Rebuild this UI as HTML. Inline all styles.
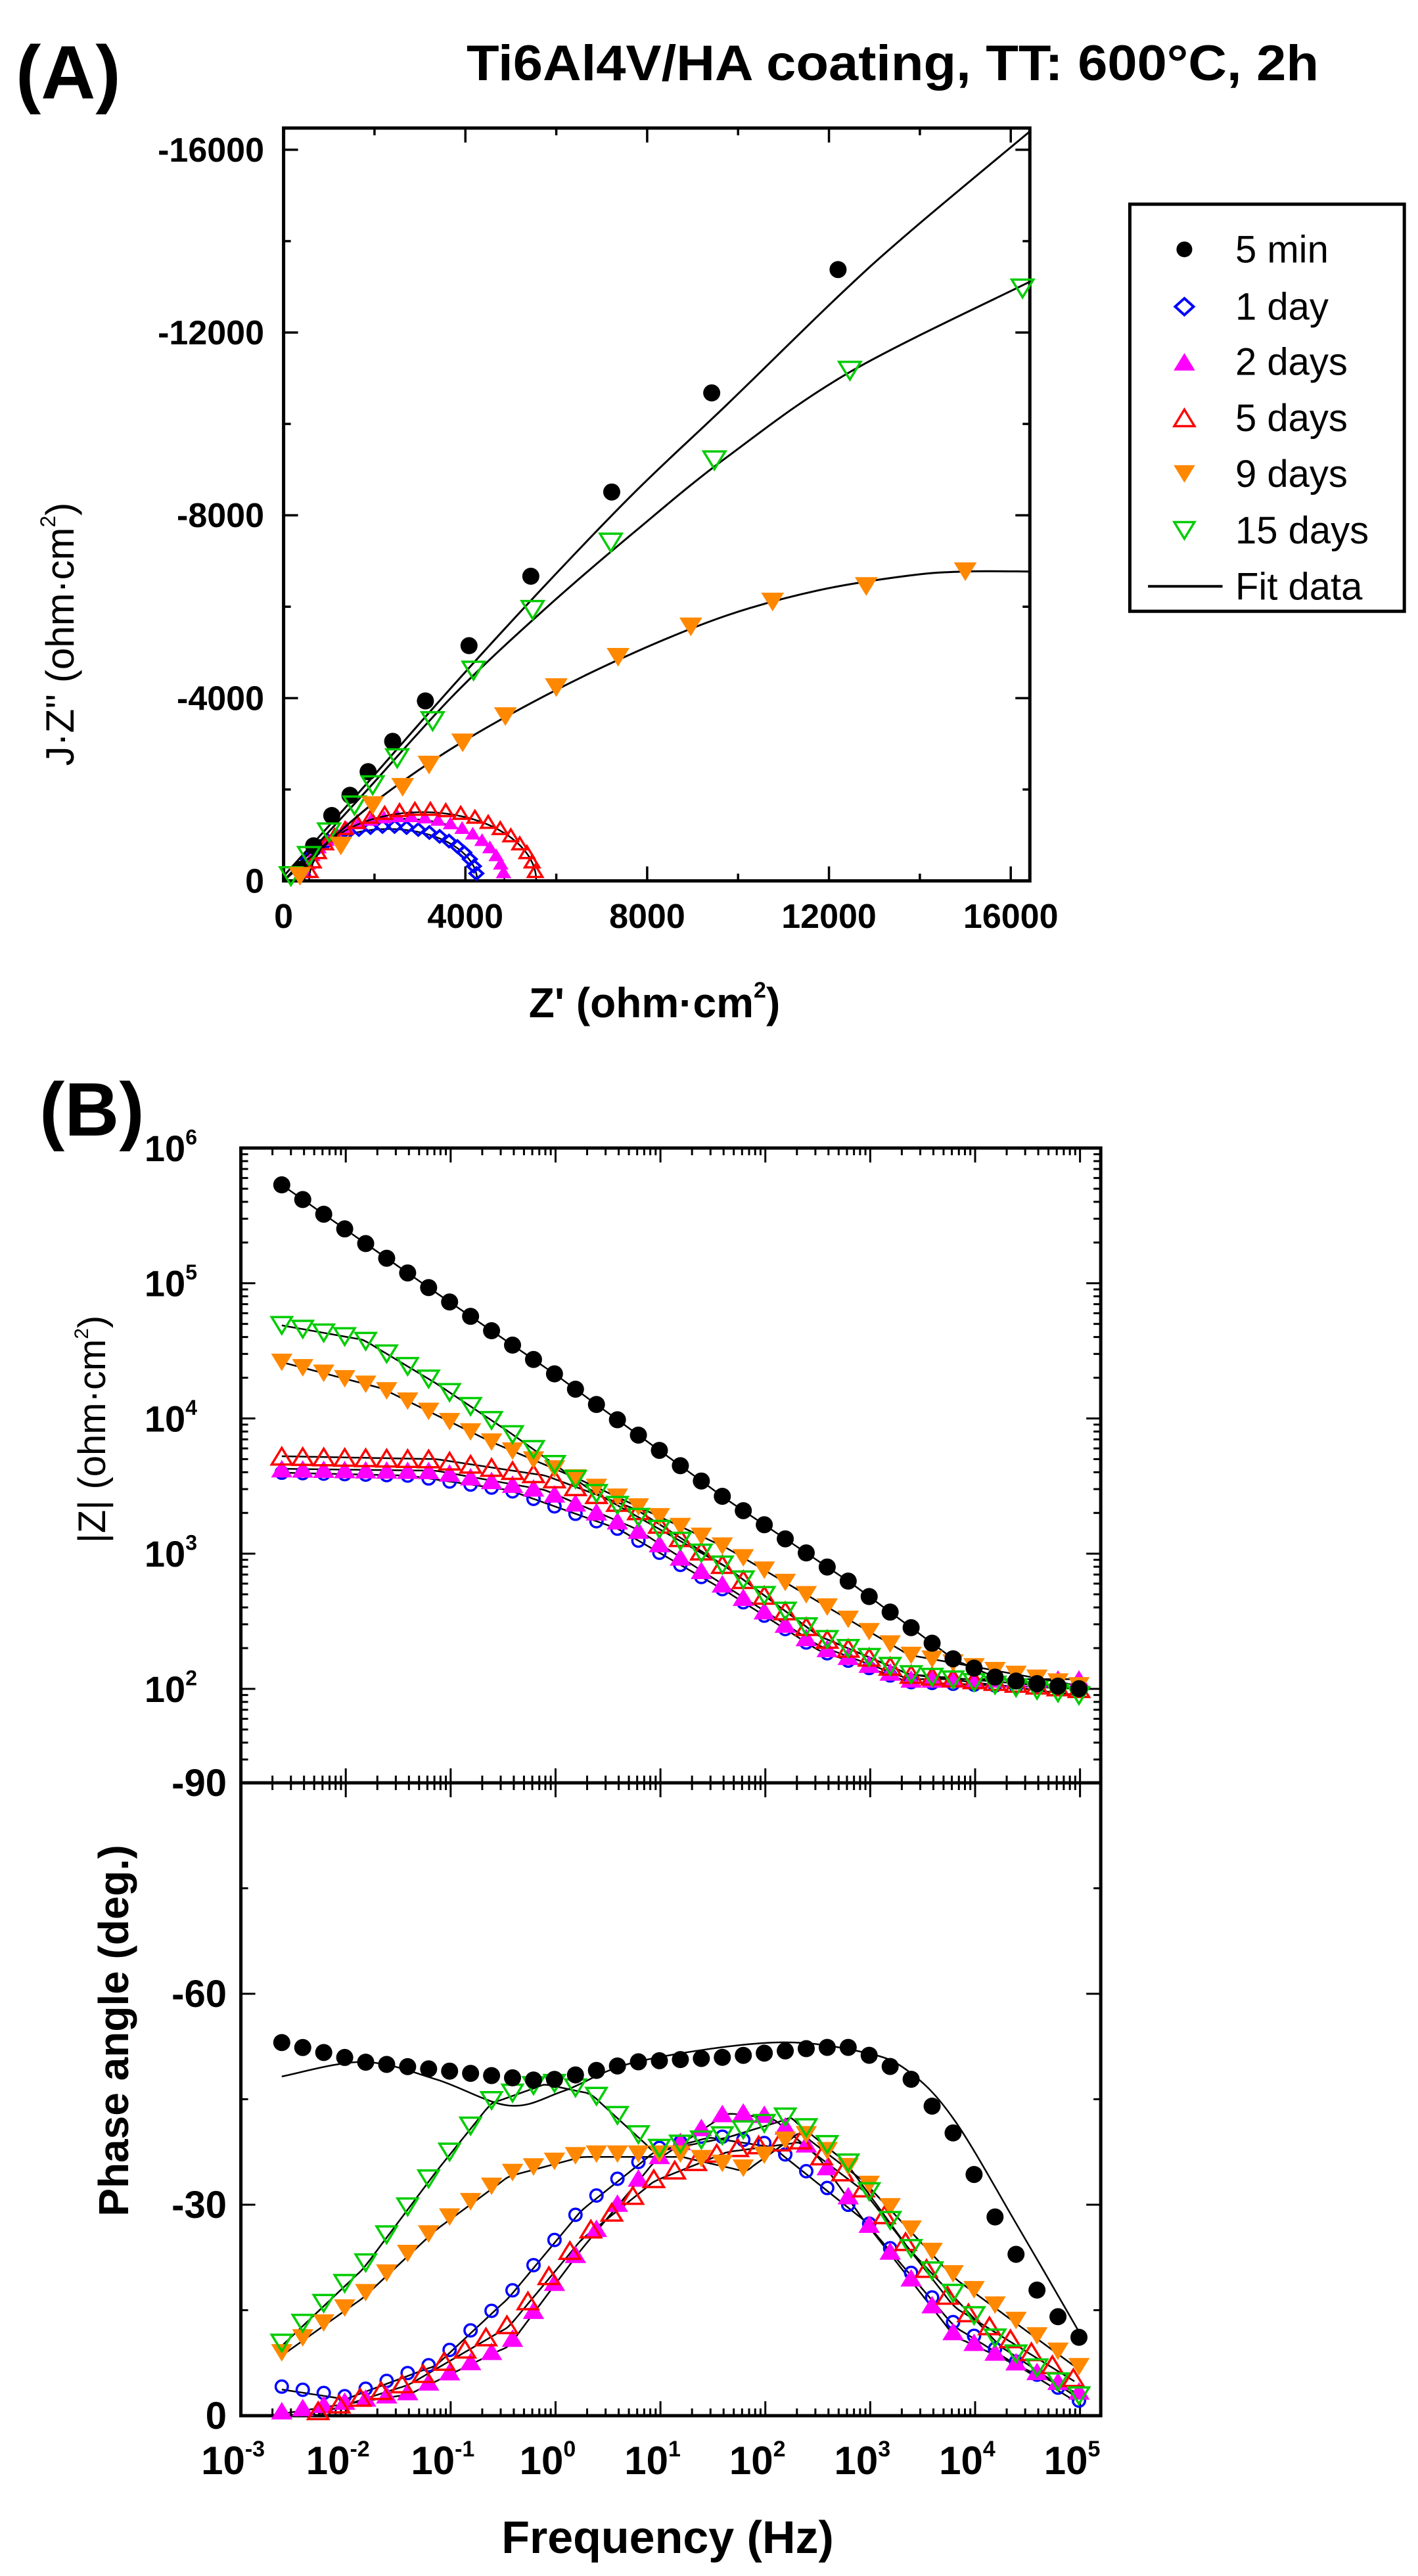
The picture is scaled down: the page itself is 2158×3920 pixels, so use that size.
<!DOCTYPE html>
<html><head><meta charset="utf-8"><style>html,body{margin:0;padding:0;background:#fff}svg{display:block}</style></head>
<body>
<svg id="s" xmlns="http://www.w3.org/2000/svg" width="2158" height="3920" viewBox="0 0 2158 3920" font-family="Liberation Sans, sans-serif">
<rect width="2158" height="3920" fill="#fff"/>
<g id="G"></g>
<text x="24" y="150" font-size="115" font-weight="bold">(A)</text>
<text x="710" y="122" font-size="76" font-weight="bold" textLength="1297" lengthAdjust="spacingAndGlyphs">Ti6Al4V/HA coating, TT: 600°C, 2h</text>
<text x="996" y="1548" font-size="64" font-weight="bold" text-anchor="middle">Z' (ohm·cm<tspan font-size="34" dy="-30">2</tspan><tspan dy="30">)</tspan></text>
<text transform="translate(112,965) rotate(-90)" font-size="60" text-anchor="middle">J·Z''  (ohm·cm<tspan font-size="32" dy="-28">2</tspan><tspan dy="28">)</tspan></text>
<text x="60" y="1728" font-size="115" font-weight="bold">(B)</text>
<text x="1016" y="3885" font-size="70" font-weight="bold" text-anchor="middle">Frequency (Hz)</text>
<text transform="translate(160,2175) rotate(-90)" font-size="58" text-anchor="middle">|Z| (ohm·cm<tspan font-size="30" dy="-26">2</tspan><tspan dy="26">)</tspan></text>
<text transform="translate(195,3090) rotate(-90)" font-size="64" font-weight="bold" text-anchor="middle">Phase angle (deg.)</text>
</svg>
<script>
const NS='http://www.w3.org/2000/svg';
const G=document.getElementById('G');
function el(t,a,p){const e=document.createElementNS(NS,t);for(const k in a)e.setAttribute(k,a[k]);(p||G).appendChild(e);return e;}
function txt(s,a){const e=el('text',a);e.textContent=s;return e;}
const SX=1.3833;
const mA=p=>[p[0]*SX,p[1]*1.0256];
const mB=p=>[p[0]*SX,1747+(p[1]-97)*1.4748];
const col={fc:'#000',oc:'#00f',diam:'#00f',ftu:'#f0f',otu:'#f00',ftd:'#f80',otd:'#0c0'};
function mk(t,x,y,s){const c=col[t];
 if(t=='fc')el('circle',{cx:x,cy:y,r:s*0.5,fill:c});
 else if(t=='oc')el('circle',{cx:x,cy:y,r:s*0.42,fill:'none',stroke:c,'stroke-width':3.5});
 else if(t=='diam')el('polygon',{points:`${x},${y-s*.45} ${x+s*.5},${y} ${x},${y+s*.45} ${x-s*.5},${y}`,fill:'none',stroke:c,'stroke-width':4});
 else{const up=t[2]=='u';const h=s*0.9,w=s*0.55;const p=up?`${x},${y-h/2} ${x+w},${y+h/2} ${x-w},${y+h/2}`:`${x},${y+h/2} ${x+w},${y-h/2} ${x-w},${y-h/2}`;
  el('polygon',{points:p,fill:t[0]=='f'?c:'none',stroke:c,'stroke-width':t[0]=='f'?1:3.5});}}
function interp(P,x){if(x<=P[0][0])return P[0][1];for(let i=1;i<P.length;i++){if(x<=P[i][0]){const a=P[i-1],b=P[i];return a[1]+(b[1]-a[1])*(x-a[0])/(b[0]-a[0]);}}return P[P.length-1][1];}
function smooth(P){let d=`M${P[0][0]},${P[0][1]}`;for(let i=0;i<P.length-1;i++){const p0=P[i-1]||P[i],p1=P[i],p2=P[i+1],p3=P[i+2]||P[i+1];
 d+=` C${p1[0]+(p2[0]-p0[0])/6},${p1[1]+(p2[1]-p0[1])/6} ${p2[0]-(p3[0]-p1[0])/6},${p2[1]-(p3[1]-p1[1])/6} ${p2[0]},${p2[1]}`;}return d;}
function line(P,m,w){el('path',{d:smooth(P.map(m)),fill:'none',stroke:'#000','stroke-width':w||3});}
function L(x1,y1,x2,y2,w){el('line',{x1,y1,x2,y2,stroke:'#000','stroke-width':w||3.5});}
function sup(base,exp,a,fs){const t=txt(base,a);const s=document.createElementNS(NS,'tspan');s.setAttribute('font-size',fs);s.setAttribute('dy',-fs*0.8);s.textContent=exp;t.appendChild(s);}
// ===== Panel A =====
(function(){
 const X0=312*SX,X1=1133*SX,Y0=1307*1.0256,Y1=190*1.0256;
 el('rect',{x:X0,y:Y1,width:X1-X0,height:Y0-Y1,fill:'none',stroke:'#000','stroke-width':5});
 const xz=z=>(312+z*0.05)*SX, yv=v=>(1307-v*0.0678)*1.0256;
 for(let z=0;z<=16000;z+=2000){const x=xz(z),l=z%4000?11:22;
  L(x,Y0,x,Y0-l);L(x,Y1,x,Y1+l);
  if(z%4000==0)txt(String(z),{x:x,y:1412,'font-size':52,'font-weight':'bold','text-anchor':'middle'});}
 for(let v=0;v<=16000;v+=2000){const y=yv(v),l=v%4000?11:22;
  L(X0,y,X0+l,y);L(X1,y,X1-l,y);
  if(v%4000==0)txt(v?'-'+v:'0',{x:402,y:y+18,'font-size':52,'font-weight':'bold','text-anchor':'end'});}
 const arcs=[[330,525,77,'diam'],[335,555,92,'ftu'],[340,590,102,'otu']];
 arcs.forEach(a=>{const[x0,x1,h,t]=a;const c=(x0+x1)/2,r=(x1-x0)/2;const F=[];
  for(let i=0;i<=30;i++){const th=Math.PI*i/30;F.push([c-r*Math.cos(th),1307-h*Math.sin(th)]);}
  line(F,mA,2.5);
  for(let i=1;i<=22;i++){const th=Math.PI*i/23;const p=mA([c-r*Math.cos(th),1307-h*1.05*Math.sin(th)]);mk(t,p[0],p[1],20);}});
 line([[312,1300],[400,1168],[500,1015],[600,868],[700,728],[800,600],[922,440],[1000,345],[1133,195]],mA);
 line([[312,1307],[400,1178],[500,1030],[600,903],[700,787],[800,678],[935,552],[1133,418]],mA);
 line([[312,1307],[360,1250],[420,1182],[500,1108],[600,1032],[700,967],[800,913],[900,876],[1000,854],[1062,848],[1133,848]],mA);
 const pm=(arr,t,s)=>arr.forEach(q=>{const p=mA(q);mk(t,p[0],p[1],s);});
 pm([[330,1290],[345,1255],[365,1210],[385,1180],[405,1145],[432,1100],[468,1040],[516,958],[584,855],[673,730],[783,583],[922,400]],'fc',26);
 pm([[320,1300],[340,1270],[362,1235],[390,1195],[410,1165],[437,1125],[476,1070],[521,995],[586,905],[672,805],[786,683],[935,550],[1125,428]],'otd',30);
 pm([[330,1300],[375,1255],[410,1195],[443,1168],[472,1135],[509,1102],[556,1063],[612,1020],[680,975],[760,930],[850,893],[953,870],[1062,848]],'ftd',30);
 const a=mA([1243,303]),b=mA([1545,907]);
 el('rect',{x:a[0],y:a[1],width:b[0]-a[0],height:b[1]-a[1],fill:'#fff',stroke:'#000','stroke-width':5});
 const Lg=[['fc','5 min',370],['diam','1 day',455],['ftu','2 days',537],['otu','5 days',620],['ftd','9 days',703],['otd','15 days',787]];
 Lg.forEach(l=>{const y=l[2]*1.0256;mk(l[0],1303*SX,y,l[0]=='fc'?24:28);txt(l[1],{x:1880,y:y+20,'font-size':58});});
 const y=870*1.0256;L(1263*SX,y,1345*SX,y,4);
 txt('Fit data',{x:1880,y:y+20,'font-size':58});
})();
// ===== Panel B =====
(function(){
 const XL=265*SX,XR=1211*SX,YT=mB([0,97])[1],YM=mB([0,752])[1],YB=mB([0,1405])[1];
 el('rect',{x:XL,y:YT,width:XR-XL,height:YB-YT,fill:'none',stroke:'#000','stroke-width':5});
 L(XL,YM,XR,YM,5);
 const dec=115.4;
 const lx=l=>(265+(l+3)*dec)*SX;
 for(let k=-3;k<=5;k++){for(let m=1;m<10;m++){const x=lx(k+Math.log10(m));if(x>XR)break;const l=m==1?22:11;
  [[YB,-1],[YM,-1],[YM,1],[YT,1]].forEach(q=>L(x,q[0],x,q[0]+q[1]*l,3));}
  sup('10',String(k),{x:lx(k)-12,y:3765,'font-size':60,'font-weight':'bold','text-anchor':'middle'},34);}
 const yz=z=>mB([0,97+(6-z)*139.5])[1];
 for(let k=1;k<=6;k++){for(let m=1;m<10;m++){const y=yz(k+Math.log10(m));if(y<YT||y>YM)continue;const l=m==1?22:11;
  L(XL,y,XL+l,y,3);L(XR,y,XR-l,y,3);}
  if(k>=2)sup('10',String(k),{x:300,y:yz(k)+20,'font-size':56,'font-weight':'bold','text-anchor':'end'},32);}
 const yp=d=>mB([0,1405-d*7.256])[1];
 for(let d=0;d<=90;d+=15){const y=yp(d),l=d%30?11:22;
  L(XL,y,XL+l,y,3);L(XR,y,XR-l,y,3);
  if(d%30==0)txt(d?'-'+d:'0',{x:345,y:y+20,'font-size':58,'font-weight':'bold','text-anchor':'end'});}
 const Z={
  fc:[[310,135],[470,240],[610,330],[800,460],[935,545],[1050,625],[1100,645],[1188,655]],
  otd:[[310,280],[400,295],[480,340],[560,390],[650,450],[800,530],[900,600],[1000,640],[1188,662]],
  ftd:[[310,318],[420,345],[540,400],[640,440],[800,510],[900,565],[1000,620],[1188,652]],
  otu:[[310,415],[480,418],[600,435],[700,470],[800,530],[900,600],[1000,640],[1188,655]],
  ftu:[[310,428],[480,430],[600,450],[700,490],[800,550],[900,610],[1000,645],[1188,645]],
  oc:[[310,432],[450,435],[560,450],[680,490],[800,555],[900,615],[1000,648],[1188,655]]};
 const P={
  fc:[[310,1020],[400,1040],[500,1050],[600,1060],[700,1040],[800,1035],[900,1025],[940,1025],[1000,1055],[1050,1115],[1100,1210],[1150,1290],[1188,1325]],
  otd:[[310,1330],[400,1250],[480,1150],[540,1080],[600,1060],[650,1070],[720,1130],[800,1115],[870,1095],[930,1140],[1000,1230],[1100,1330],[1188,1385]],
  ftd:[[310,1340],[400,1280],[480,1210],[560,1155],[640,1135],[750,1135],[820,1150],[880,1110],[950,1160],[1050,1260],[1188,1355]],
  oc:[[310,1375],[380,1385],[480,1350],[560,1280],[640,1190],[720,1130],[780,1115],[850,1125],[950,1200],[1050,1310],[1188,1390]],
  ftu:[[310,1400],[450,1380],[560,1330],[640,1230],[720,1140],[800,1090],[850,1095],[900,1135],[950,1200],[1050,1320],[1188,1380]],
  otu:[[350,1400],[450,1370],[560,1310],[640,1220],[720,1160],[800,1130],[880,1120],[950,1170],[1050,1290],[1188,1370]]};
 const fitFcP=[[310,1055],[400,1040],[480,1058],[560,1085],[620,1070],[700,1040],[850,1020],[950,1030],[1000,1050],[1050,1100],[1120,1210],[1188,1320]];
 const order=['oc','ftu','otu','ftd','otd','fc'];
 order.forEach(t=>{const F=[];for(let x=310;x<=1188;x+=8)F.push([x,interp(Z[t],x)]);line(F,mB,2.5);});
 order.forEach(t=>{if(t=='fc')return;const F=[];for(let x=(t=='otu'?350:310);x<=1188;x+=8)F.push([x,interp(P[t],x)+3]);line(F,mB,2.5);});
 line(fitFcP,mB,2.5);
 const step=dec/5;
 order.forEach(t=>{const s=t=='fc'?26:(t=='oc'?22:28);
  for(let x=310;x<=1190;x+=step){const p=mB([x,interp(Z[t],x)]);mk(t,p[0],p[1],s);}
  for(let x=(t=='otu'?350:310);x<=1190;x+=step){const p=mB([x,interp(P[t],x)]);mk(t,p[0],p[1],s);}});
})();
</script>
</body></html>
